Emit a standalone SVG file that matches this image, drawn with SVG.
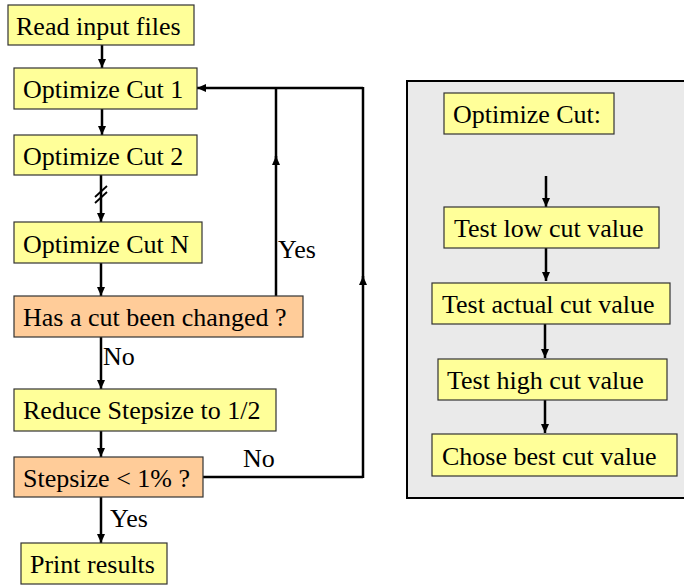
<svg xmlns="http://www.w3.org/2000/svg" width="684" height="586" viewBox="0 0 684 586">
<style>
.y{fill:#FFFF99;stroke:#333;stroke-width:1.2}
.o{fill:#FFCC99;stroke:#333;stroke-width:1.2}
.t{font-family:"Times New Roman",Times,"Liberation Serif",Tinos,"Noto Serif","DejaVu Serif",serif;font-size:26px;fill:#000}
.c{fill:none;stroke:#000;stroke-width:2.5}
</style>
<defs>
<marker id="a" markerUnits="userSpaceOnUse" markerWidth="10" markerHeight="8" refX="9" refY="4" orient="auto">
<path d="M0,0 L9,4 L0,8 z" fill="#000"/>
</marker>
</defs>
<rect width="684" height="586" fill="#fff"/>
<g id="panel">
<rect x="407" y="81" width="290" height="417" fill="#EAEAEA" stroke="#000" stroke-width="2"/>
</g>
<g id="connectors">
<line class="c" x1="102" y1="45" x2="102" y2="68" marker-end="url(#a)"/>
<line class="c" x1="102" y1="109" x2="102" y2="135" marker-end="url(#a)"/>
<line class="c" x1="101" y1="175" x2="101" y2="222" marker-end="url(#a)"/>
<line stroke="#000" stroke-width="1.8" x1="95" y1="197" x2="107" y2="186"/>
<line stroke="#000" stroke-width="1.8" x1="95" y1="203" x2="107" y2="192"/>
<line class="c" x1="101" y1="263" x2="101" y2="296" marker-end="url(#a)"/>
<line class="c" x1="101" y1="337" x2="101" y2="389" marker-end="url(#a)"/>
<line class="c" x1="101" y1="431" x2="101" y2="457" marker-end="url(#a)"/>
<line class="c" x1="101" y1="497" x2="101" y2="543" marker-end="url(#a)"/>
<line class="c" x1="276" y1="296" x2="276" y2="156" marker-end="url(#a)"/>
<line class="c" x1="276" y1="160" x2="276" y2="88"/>
<line class="c" x1="363" y1="88" x2="197" y2="88" marker-end="url(#a)"/>
<line class="c" x1="203" y1="477" x2="363" y2="477"/>
<line class="c" x1="363" y1="478" x2="363" y2="276" marker-end="url(#a)"/>
<line class="c" x1="363" y1="280" x2="363" y2="87"/>
<line class="c" x1="546" y1="176" x2="546" y2="207" marker-end="url(#a)"/>
<line class="c" x1="546" y1="248" x2="546" y2="281" marker-end="url(#a)"/>
<line class="c" x1="545" y1="324" x2="545" y2="358" marker-end="url(#a)"/>
<line class="c" x1="545" y1="400" x2="545" y2="433" marker-end="url(#a)"/>
</g>
<g id="read"><rect class="y" x="8" y="5" width="186" height="40"/><text class="t" x="16" y="35">Read input files</text></g>
<g id="opt1"><rect class="y" x="14" y="68" width="183" height="41"/><text class="t" x="23" y="98">Optimize Cut 1</text></g>
<g id="opt2"><rect class="y" x="14" y="135" width="183" height="40"/><text class="t" x="23" y="165">Optimize Cut 2</text></g>
<g id="optn"><rect class="y" x="14" y="222" width="188" height="41"/><text class="t" x="23" y="253">Optimize Cut N</text></g>
<g id="changed"><rect class="o" x="14" y="296" width="289" height="41"/><text class="t" x="23" y="326">Has a cut been changed ?</text></g>
<g id="reduce"><rect class="y" x="14" y="389" width="262" height="42"/><text class="t" x="23" y="419">Reduce Stepsize to 1/2</text></g>
<g id="stepsize"><rect class="o" x="14" y="457" width="189" height="40"/><text class="t" x="23" y="487">Stepsize &lt; 1% ?</text></g>
<g id="print"><rect class="y" x="21" y="543" width="146" height="41"/><text class="t" x="30" y="573">Print results</text></g>
<g id="labels">
<text class="t" x="278" y="258">Yes</text>
<text class="t" x="103" y="365">No</text>
<text class="t" x="243" y="467">No</text>
<text class="t" x="110" y="527">Yes</text>
</g>
<g id="optcut"><rect class="y" x="444" y="93" width="170" height="41"/><text class="t" x="453" y="123">Optimize Cut:</text></g>
<g id="testlow"><rect class="y" x="444" y="207" width="215" height="41"/><text class="t" x="454" y="237">Test low cut value</text></g>
<g id="testactual"><rect class="y" x="432" y="283" width="238" height="41"/><text class="t" x="442" y="313">Test actual cut value</text></g>
<g id="testhigh"><rect class="y" x="438" y="359" width="229" height="41"/><text class="t" x="447" y="389">Test high cut value</text></g>
<g id="chose"><rect class="y" x="432" y="434" width="245" height="42"/><text class="t" x="442" y="465">Chose best cut value</text></g>
</svg>
